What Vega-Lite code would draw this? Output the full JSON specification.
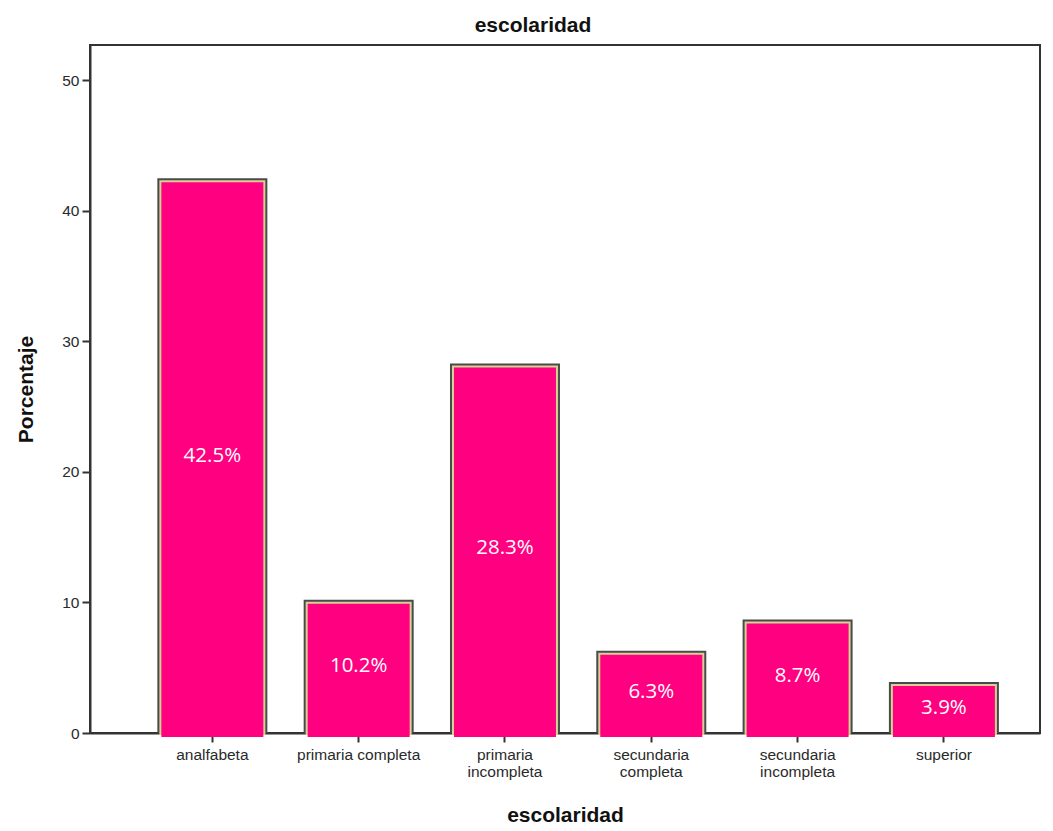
{
  "$schema": "https://vega.github.io/schema/vega-lite/v6.json",
  "autosize": "none",
  "width": 950,
  "height": 688,
  "padding": {"left": 90, "top": 45, "right": 13, "bottom": 98},
  "background": "white",
  "config": {
    "view": {"stroke": "#333333", "strokeWidth": 2},
    "font": "Liberation Sans"
  },
  "title": {
    "text": "escolaridad",
    "fontSize": 21,
    "fontWeight": "bold",
    "color": "#111111",
    "offset": 9,
    "dx": -32,
    "font": "Liberation Sans"
  },
  "data": {
    "values": [
      {"escolaridad": "analfabeta", "pct": 42.5},
      {"escolaridad": "primaria completa", "pct": 10.2},
      {"escolaridad": "primaria incompleta", "pct": 28.3},
      {"escolaridad": "secundaria completa", "pct": 6.3},
      {"escolaridad": "secundaria incompleta", "pct": 8.7},
      {"escolaridad": "superior", "pct": 3.9}
    ]
  },
  "transform": [
    {"calculate": "datum.pct / 2", "as": "mid"},
    {"calculate": "format(datum.pct, '.1f') + '%'", "as": "lab"}
  ],
  "encoding": {
    "x": {
      "field": "escolaridad",
      "type": "nominal",
      "sort": null,
      "scale": {"paddingInner": 0.255, "paddingOuter": 0.374, "align": 0.62},
      "axis": {
        "title": "escolaridad",
        "titleFontSize": 21,
        "titleFontWeight": "bold",
        "titleColor": "#111111",
        "titlePadding": 24,
        "labelAngle": 0,
        "labelFontSize": 15.5,
        "labelColor": "#2a2a2a",
        "labelPadding": 5,
        "labelExpr": "datum.value == 'primaria completa' ? datum.value : split(datum.value, ' ')",
        "tickSize": 9,
        "tickColor": "#333333",
        "tickWidth": 2,
        "domainColor": "#333333",
        "domainWidth": 2,
        "labelFont": "Liberation Sans"
      }
    }
  },
  "layer": [
    {
      "mark": {"type": "bar", "width": 110, "color": "#4a4a4a"},
      "encoding": {
        "y": {
          "field": "pct",
          "type": "quantitative",
          "scale": {"domain": [0, 52.7], "nice": false},
          "axis": {
            "title": "Porcentaje",
            "titleFontSize": 21,
            "titleFontWeight": "bold",
            "titleColor": "#111111",
            "titlePadding": 25,
            "values": [0, 10, 20, 30, 40, 50],
            "labelFontSize": 15.5,
            "labelColor": "#2a2a2a",
            "labelPadding": 3,
            "tickSize": 8,
            "tickColor": "#333333",
            "tickWidth": 2,
            "domainColor": "#333333",
            "domainWidth": 2,
            "grid": false,
            "labelFont": "Liberation Sans"
          }
        }
      }
    },
    {
      "mark": {"type": "bar", "width": 106, "color": "#d8d095", "yOffset": 2, "y2Offset": -1},
      "encoding": {"y": {"field": "pct", "type": "quantitative"}}
    },
    {
      "mark": {"type": "bar", "width": 102, "color": "#ff0080", "yOffset": 4, "y2Offset": -3},
      "encoding": {"y": {"field": "pct", "type": "quantitative"}}
    },
    {
      "mark": {"type": "text", "color": "white", "fontSize": 20.5, "font": "Open Sans", "baseline": "middle"},
      "encoding": {
        "y": {"field": "mid", "type": "quantitative"},
        "text": {"field": "lab"}
      }
    }
  ]
}
